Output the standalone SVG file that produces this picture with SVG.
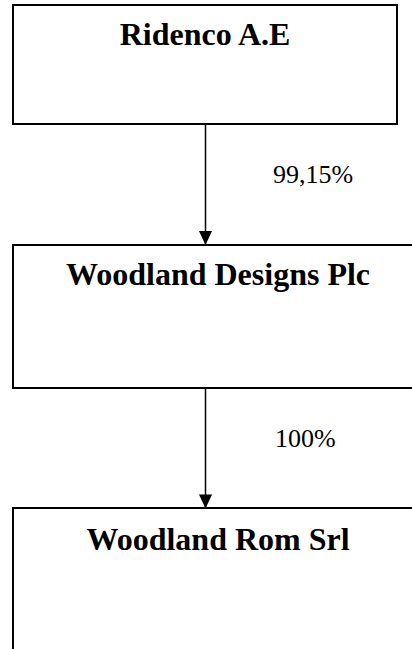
<svg xmlns="http://www.w3.org/2000/svg" width="412" height="649" viewBox="0 0 412 649">
<defs>
<style>
.box{fill:#fff;stroke:#000;stroke-width:2}
.title{font-family:"Liberation Serif",serif;font-weight:bold;font-size:32px;text-anchor:middle;fill:#000}
.lbl{font-family:"Liberation Serif",serif;font-size:26px;fill:#000}
.conn{stroke:#000;stroke-width:1.5;fill:none}
</style>
<marker id="ah" markerWidth="14" markerHeight="15" refX="14" refY="7" orient="auto" markerUnits="userSpaceOnUse" viewBox="0 0 15 14">
<path d="M0,0 L15,7 L0,14 Z" fill="#000"/>
</marker>
</defs>
<rect width="412" height="649" fill="#fff"/>
<g id="n1">
<rect class="box" x="13" y="5" width="384" height="119"/>
<text class="title" x="205" y="45">Ridenco A.E</text>
</g>
<g id="n2">
<rect class="box" x="13" y="245" width="410" height="143"/>
<text class="title" x="218" y="285">Woodland Designs Plc</text>
</g>
<g id="n3">
<rect class="box" x="13" y="508" width="410" height="160"/>
<text class="title" x="218" y="550">Woodland Rom Srl</text>
</g>
<g id="connectors">
<line class="conn" x1="205.5" y1="124" x2="205.5" y2="244" marker-end="url(#ah)"/>
<text class="lbl" x="273" y="183">99,15%</text>
<line class="conn" x1="205.5" y1="388" x2="205.5" y2="507.5" marker-end="url(#ah)"/>
<text class="lbl" x="275" y="447">100%</text>
</g>
</svg>
